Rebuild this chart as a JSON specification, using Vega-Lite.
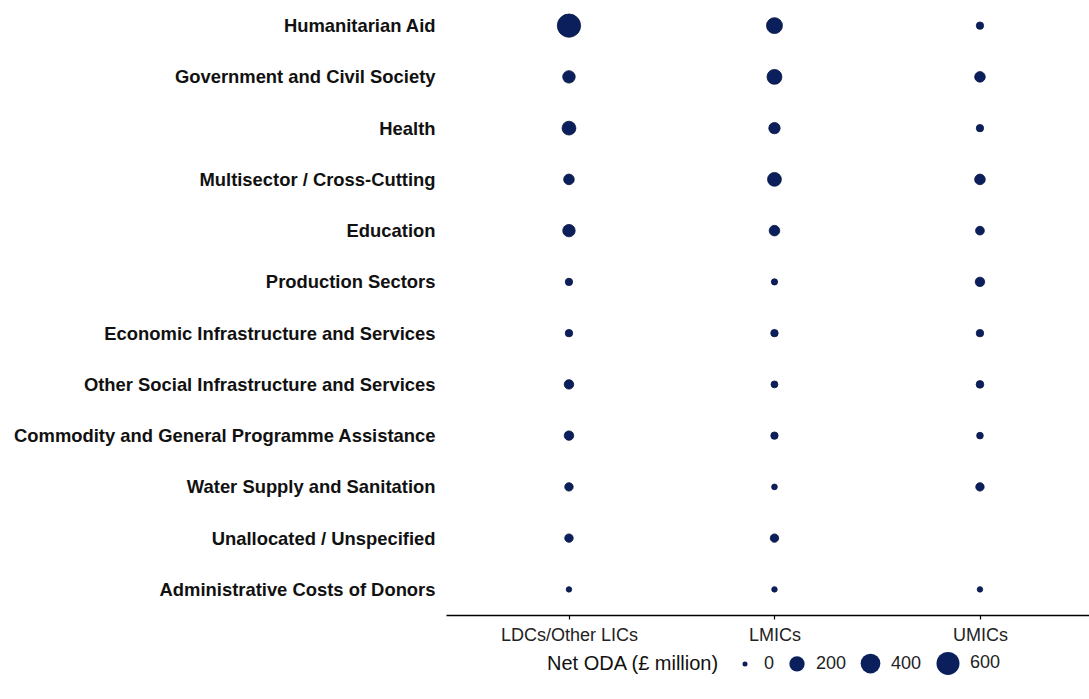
{
  "$schema": "https://vega.github.io/schema/vega-lite/v6.json",
  "width": 643,
  "height": 615,
  "padding": {"left": 12, "top": 0, "right": 0, "bottom": 0},
  "background": "white",
  "data": {
    "values": [
      {"sector": "Humanitarian Aid", "group": "LDCs/Other LICs", "oda": 620},
      {"sector": "Humanitarian Aid", "group": "LMICs", "oda": 224},
      {"sector": "Humanitarian Aid", "group": "UMICs", "oda": 17},
      {"sector": "Government and Civil Society", "group": "LDCs/Other LICs", "oda": 110},
      {"sector": "Government and Civil Society", "group": "LMICs", "oda": 185},
      {"sector": "Government and Civil Society", "group": "UMICs", "oda": 67},
      {"sector": "Health", "group": "LDCs/Other LICs", "oda": 150},
      {"sector": "Health", "group": "LMICs", "oda": 83},
      {"sector": "Health", "group": "UMICs", "oda": 17},
      {"sector": "Multisector / Cross-Cutting", "group": "LDCs/Other LICs", "oda": 67},
      {"sector": "Multisector / Cross-Cutting", "group": "LMICs", "oda": 150},
      {"sector": "Multisector / Cross-Cutting", "group": "UMICs", "oda": 67},
      {"sector": "Education", "group": "LDCs/Other LICs", "oda": 110},
      {"sector": "Education", "group": "LMICs", "oda": 67},
      {"sector": "Education", "group": "UMICs", "oda": 35},
      {"sector": "Production Sectors", "group": "LDCs/Other LICs", "oda": 17},
      {"sector": "Production Sectors", "group": "LMICs", "oda": 7},
      {"sector": "Production Sectors", "group": "UMICs", "oda": 46},
      {"sector": "Economic Infrastructure and Services", "group": "LDCs/Other LICs", "oda": 18},
      {"sector": "Economic Infrastructure and Services", "group": "LMICs", "oda": 18},
      {"sector": "Economic Infrastructure and Services", "group": "UMICs", "oda": 18},
      {"sector": "Other Social Infrastructure and Services", "group": "LDCs/Other LICs", "oda": 46},
      {"sector": "Other Social Infrastructure and Services", "group": "LMICs", "oda": 12},
      {"sector": "Other Social Infrastructure and Services", "group": "UMICs", "oda": 20},
      {"sector": "Commodity and General Programme Assistance", "group": "LDCs/Other LICs", "oda": 46},
      {"sector": "Commodity and General Programme Assistance", "group": "LMICs", "oda": 17},
      {"sector": "Commodity and General Programme Assistance", "group": "UMICs", "oda": 10},
      {"sector": "Water Supply and Sanitation", "group": "LDCs/Other LICs", "oda": 30},
      {"sector": "Water Supply and Sanitation", "group": "LMICs", "oda": 3},
      {"sector": "Water Supply and Sanitation", "group": "UMICs", "oda": 30},
      {"sector": "Unallocated / Unspecified", "group": "LDCs/Other LICs", "oda": 30},
      {"sector": "Unallocated / Unspecified", "group": "LMICs", "oda": 30},
      {"sector": "Administrative Costs of Donors", "group": "LDCs/Other LICs", "oda": 2},
      {"sector": "Administrative Costs of Donors", "group": "LMICs", "oda": 2},
      {"sector": "Administrative Costs of Donors", "group": "UMICs", "oda": 2}
    ]
  },
  "mark": {"type": "point", "shape": "circle", "filled": true, "fill": "#0b1f5c", "stroke": "#061440", "strokeWidth": 0.8, "opacity": 1},
  "encoding": {
    "x": {
      "field": "group", "type": "nominal", "title": null,
      "sort": ["LDCs/Other LICs", "LMICs", "UMICs"],
      "scale": {"type": "point", "padding": 0.5645, "align": 0.53},
      "axis": {"labelAngle": 0, "labelFontSize": 18, "labelFont": "Liberation Sans", "labelColor": "#222222", "domainColor": "#000000", "domainWidth": 1.6, "tickColor": "#000000", "tickSize": 4, "tickWidth": 1.2, "labelPadding": 7, "grid": false}
    },
    "y": {
      "field": "sector", "type": "nominal", "title": null,
      "sort": ["Humanitarian Aid", "Government and Civil Society", "Health", "Multisector / Cross-Cutting", "Education", "Production Sectors", "Economic Infrastructure and Services", "Other Social Infrastructure and Services", "Commodity and General Programme Assistance", "Water Supply and Sanitation", "Unallocated / Unspecified", "Administrative Costs of Donors"],
      "scale": {"type": "point", "padding": 0.5},
      "axis": {"domain": false, "ticks": false, "grid": false, "labelFontSize": 18.4, "labelFont": "Liberation Sans", "labelFontWeight": "bold", "labelColor": "#111111", "labelPadding": 11, "labelLimit": 0}
    },
    "size": {
      "field": "oda", "type": "quantitative",
      "scale": {"type": "pow", "exponent": 0.8, "domain": [0, 600], "range": [25, 529], "clamp": false},
      "legend": {
        "title": "Net ODA (£ million)", "orient": "none", "legendX": 101, "legendY": 651,
        "direction": "horizontal", "titleOrient": "left", "values": [0, 200, 400, 600],
        "titleFontSize": 20, "titleFontWeight": "normal", "titleFont": "Liberation Sans", "titleColor": "#111111",
        "labelFontSize": 18, "labelFont": "Liberation Sans", "labelColor": "#222222",
        "symbolFillColor": "#0b1f5c", "symbolStrokeColor": "#061440", "symbolStrokeWidth": 0.8, "symbolType": "circle",
        "titlePadding": 16, "columnPadding": 12, "labelOffset": 10
      }
    }
  },
  "config": {"view": {"stroke": null}}
}
